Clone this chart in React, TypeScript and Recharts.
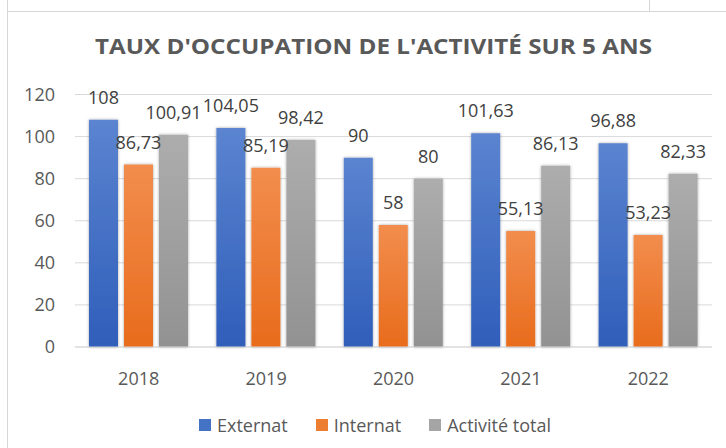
import React from 'react';
import { BarChart, Bar, XAxis, YAxis, CartesianGrid, Legend, LabelList } from 'recharts';

const years = ['2018', '2019', '2020', '2021', '2022'];
const externat = [108, 104.05, 90, 101.63, 96.88];
const internat = [86.73, 85.19, 58, 55.13, 53.23];
const activiteTotal = [100.91, 98.42, 80, 86.13, 82.33];
const yTicks = [0, 20, 40, 60, 80, 100, 120];
const seriesNames = ['Externat', 'Internat', 'Activité total'];
const title = "TAUX D'OCCUPATION DE L'ACTIVITÉ SUR 5 ANS";

const data = years.map((y, i) => ({
  year: y,
  externat: externat[i],
  internat: internat[i],
  total: activiteTotal[i],
}));

const series = [
  { key: 'externat', name: seriesNames[0], color: '#4472C4', top: '#5b84d0', bottom: '#2f5eba', grad: 'gBlue' },
  { key: 'internat', name: seriesNames[1], color: '#ED7D31', top: '#f28d4d', bottom: '#e86c1c', grad: 'gOrange' },
  { key: 'total', name: seriesNames[2], color: '#A5A5A5', top: '#adadad', bottom: '#929292', grad: 'gGray' },
];

const FONT = '"Open Sans", "Noto Sans", sans-serif';
const fmt = (v: any) => String(v).replace('.', ',');

const LegendContent = (props: any) => {
  const payload = [...(props.payload || [])].sort(
    (a: any, b: any) => series.findIndex((s) => s.key === a.dataKey) - series.findIndex((s) => s.key === b.dataKey)
  );
  return (
    <div style={{ height: 46, paddingLeft: 38, boxSizing: 'border-box', display: 'flex', alignItems: 'center', justifyContent: 'center', fontFamily: FONT, fontSize: 18, color: '#595959' }}>
      {payload.map((p: any, i: number) => {
        const s = series.find((x) => x.key === p.dataKey) || series[i];
        return (
          <div key={i} style={{ display: 'flex', alignItems: 'center', marginLeft: i === 0 ? 0 : 28 }}>
            <div style={{ width: 12, height: 12, background: s.color, marginRight: 6 }} />
            <span style={{ lineHeight: '20px' }}>{p.value}</span>
          </div>
        );
      })}
    </div>
  );
};

export default function App() {
  return (
    <div style={{ position: 'absolute', left: 0, top: 0, width: 726, height: 448, background: '#ffffff', overflow: 'hidden' }}>
      <div style={{ position: 'absolute', left: 7, top: 0, width: 1, height: 448, background: '#d6d6d6' }} />
      <div style={{ position: 'absolute', left: 7, top: 11, width: 719, height: 1, background: '#d6d6d6' }} />
      <div style={{ position: 'absolute', left: 649, top: 0, width: 1, height: 11, background: '#d6d6d6' }} />
      <div style={{ position: 'absolute', left: 0, top: 0 }}>
        <BarChart
          width={726}
          height={448}
          data={data}
          margin={{ top: 94.5, right: 14, left: 0, bottom: 0 }}
          barSize={29}
          barGap={6}
        >
          <defs>
            {series.map((s) => (
              <linearGradient key={s.grad} id={s.grad} x1="0" y1="0" x2="0" y2="1">
                <stop offset="0%" stopColor={s.top} />
                <stop offset="100%" stopColor={s.bottom} />
              </linearGradient>
            ))}
            <filter id="barShadow" x="-30%" y="-10%" width="160%" height="120%">
              <feDropShadow dx="0" dy="0" stdDeviation="1.4" floodColor="#000" floodOpacity="0.35" />
            </filter>
          </defs>
          <CartesianGrid vertical={false} stroke="#d9d9d9" />
          <XAxis
            dataKey="year"
            axisLine={{ stroke: '#d9d9d9' }}
            tickLine={false}
            tickSize={0}
            tickMargin={25}
            height={55}
            tick={{ fill: '#595959', fontSize: 18, fontFamily: FONT }}
          />
          <YAxis
            domain={[0, 120]}
            ticks={yTicks}
            axisLine={false}
            tickLine={false}
            tickSize={0}
            tickMargin={20}
            width={75}
            tick={{ fill: '#595959', fontSize: 18, fontFamily: FONT }}
          />
          <Legend verticalAlign="bottom" content={<LegendContent />} />
          {series.map((s) => (
            <Bar key={s.key} dataKey={s.key} name={s.name} fill={`url(#${s.grad})`} filter="url(#barShadow)" isAnimationActive={false}>
              <LabelList dataKey={s.key} position="top" offset={16} formatter={fmt} fill="#404040" fontSize={18} fontFamily={FONT} />
            </Bar>
          ))}
        </BarChart>
      </div>
      <svg width={726} height={80} style={{ position: 'absolute', left: 0, top: 0, pointerEvents: 'none' }}>
        <text x={373.5} y={54.3} textAnchor="middle" textLength={557} lengthAdjust="spacingAndGlyphs" fontFamily={FONT} fontWeight={700} fontSize={22} fill="#595959">
          {title}
        </text>
      </svg>
    </div>
  );
}
